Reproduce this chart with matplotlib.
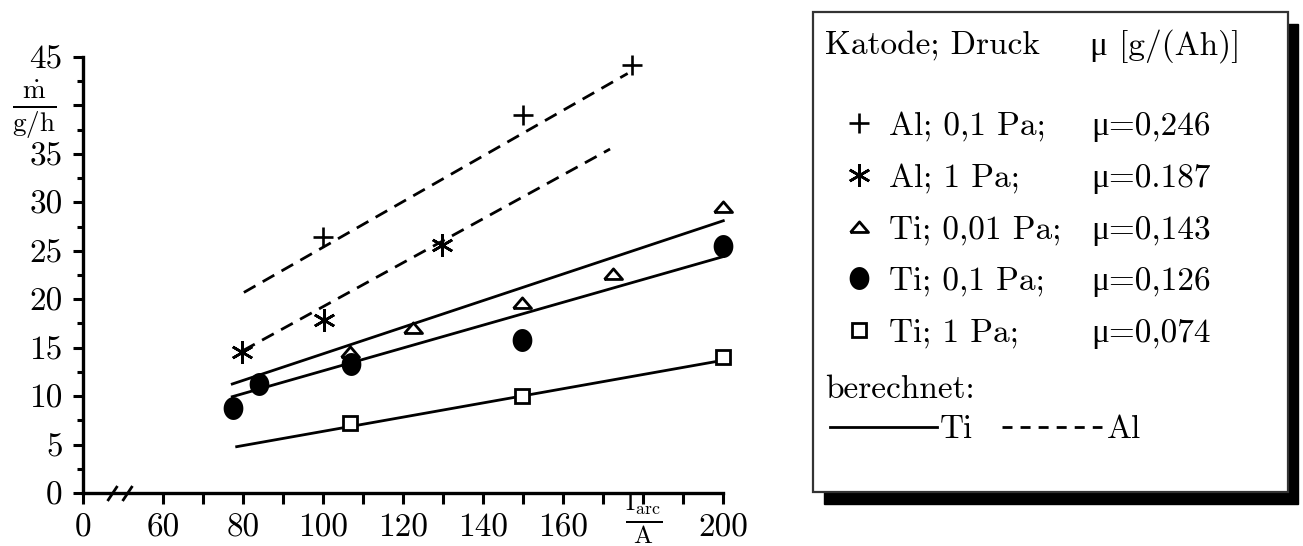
import numpy as np
import matplotlib
matplotlib.use('Agg')
import matplotlib.pyplot as plt
from matplotlib.patches import Rectangle
from matplotlib.transforms import blended_transform_factory

plt.rcParams['font.family'] = ['cmr10', 'Liberation Serif']
plt.rcParams['mathtext.fontset'] = 'cm'
plt.rcParams['axes.formatter.use_mathtext'] = True

# measured points, I_arc [A] vs mass flow [g/h]
al01_x = [100, 150, 177.2]
al01_y = [26.4, 39.0, 44.2]
al1_x = [79.8, 100.1, 129.8]
al1_y = [14.6, 17.9, 25.6]
ti001_x = [106.6, 122.4, 149.7, 172.5, 200]
ti001_y = [14.6, 17.0, 19.6, 22.6, 29.5]
ti01_x = [77.4, 83.9, 106.9, 149.7, 200]
ti01_y = [8.8, 11.25, 13.3, 15.8, 25.5]
ti1_x = [106.6, 149.6, 200]
ti1_y = [7.2, 10.0, 14.0]

# calculated lines (end points)
calc_al01_x = [80.2, 176.1]
calc_al01_y = [20.7, 43.3]
calc_al1_x = [80.0, 171.7]
calc_al1_y = [14.7, 35.5]
calc_ti001_x = [77.3, 200]
calc_ti001_y = [11.25, 28.1]
calc_ti01_x = [77.3, 200]
calc_ti01_y = [9.94, 24.4]
calc_ti1_x = [78.4, 200]
calc_ti1_y = [4.78, 13.7]

xticks = [40, 60, 80, 100, 120, 140, 160, 180, 200]
xticklabels = ['0', '60', '80', '100', '120', '140', '160', '', '200']
xminor = [70, 90, 110, 130, 150, 170, 190]
yticks = [0, 5, 10, 15, 20, 25, 30, 35, 40, 45]
yticklabels = ['0', '5', '10', '15', '20', '25', '30', '35', '', '45']

legend_labels = ['Al; 0,1 Pa;', 'Al; 1 Pa;', 'Ti; 0,01 Pa;', 'Ti; 0,1 Pa;', 'Ti; 1 Pa;']
legend_mu = ['μ=0,246', 'μ=0.187', 'μ=0,143', 'μ=0,126', 'μ=0,074']

# marker shapes
tri = [(-1, -0.55), (1, -0.55), (0, 0.62), (-1, -0.55)]
t = np.linspace(0, 2 * np.pi, 60)
ell = list(zip(0.86 * np.cos(t), np.sin(t)))
slash = [(-0.66, -1), (0.66, 1)]

styles = [
    dict(marker='+', ms=15, mew=1.9, color='k', ls='none'),
    dict(marker=(6, 2, 0), ms=16, mew=1.9, color='k', ls='none'),
    dict(marker=tri, ms=13, mew=2.0, mfc='white', mec='k', ls='none'),
    dict(marker=ell, ms=16.5, mew=0, mfc='k', mec='k', ls='none'),
    dict(marker='s', ms=10, mew=2.0, mfc='white', mec='k', ls='none'),
]
FS = 24
LW = 2.0
dash = (0, (4.8, 3))

fig = plt.figure(figsize=(13.03, 5.46), dpi=100)
W, H = 1303, 546
ax = fig.add_axes([83 / W, 53 / H, 640.3 / W, 436 / H])

# calculated lines
ax.plot(calc_ti001_x, calc_ti001_y, 'k-', lw=LW, clip_on=False)
ax.plot(calc_ti01_x, calc_ti01_y, 'k-', lw=LW, clip_on=False)
ax.plot(calc_ti1_x, calc_ti1_y, 'k-', lw=LW, clip_on=False)
ax.plot(calc_al01_x, calc_al01_y, 'k', ls=dash, lw=LW, clip_on=False)
ax.plot(calc_al1_x, calc_al1_y, 'k', ls=dash, lw=LW, clip_on=False)

# measurements
series = [(al01_x, al01_y), (al1_x, al1_y), (ti001_x, ti001_y), (ti01_x, ti01_y), (ti1_x, ti1_y)]
for (sx, sy), st in zip(series, styles):
    ax.plot(sx, sy, clip_on=False, zorder=3, **st)

ax.set_xlim(40, 200)
ax.set_ylim(0, 45)
for s in ['top', 'right']:
    ax.spines[s].set_visible(False)
for s in ['left', 'bottom']:
    ax.spines[s].set_linewidth(2.4)

ax.set_xticks(xticks)
ax.set_xticklabels(xticklabels)
ax.set_xticks(xminor, minor=True)
ax.set_yticks(yticks)
ax.set_yticklabels(yticklabels)
ax.set_yticks(np.arange(2.5, 45, 5), minor=True)
ax.tick_params(axis='x', which='both', direction='out', length=8, width=2.2, labelsize=FS, pad=7)
ax.tick_params(axis='y', which='major', direction='out', length=7.5, width=2.2, labelsize=FS, pad=7)
ax.tick_params(axis='y', which='minor', direction='out', length=4.3, width=2.2)

# axis break
ax.plot([47.2, 50.9], [0, 0], ls='none', marker=slash, ms=10.8, mew=2.0, mec='k', mfc='none', clip_on=False)

# axis labels as fractions
ty = blended_transform_factory(ax.transAxes, ax.transData)
ax.text(-0.0765, 39.6, r'$\frac{\dot{\mathrm{m}}}{\mathrm{g/h}}$', transform=ty,
        ha='center', va='center', fontsize=28)
tx = blended_transform_factory(ax.transData, ax.transAxes)
ax.text(180, -0.058, r'$\frac{\mathrm{I}_{\mathrm{arc}}}{\mathrm{A}}$', transform=tx,
        ha='center', va='center', fontsize=26)

# legend box drawn in pixel coordinates
lax = fig.add_axes([0, 0, 1, 1])
lax.set_xlim(0, W)
lax.set_ylim(H, 0)
lax.axis('off')
lax.add_patch(Rectangle((824, 24), 474, 480, fc='k', ec='k'))
lax.add_patch(Rectangle((813, 12), 475, 480, fc='white', ec='#333333', lw=1.6))

lax.text(825, 55, 'Katode; Druck', fontsize=FS, va='baseline')
lax.text(1090, 55, 'μ [g/(Ah)]', fontsize=FS, va='baseline')
row_y = [123, 175, 227, 278, 330]
for i, (lab, mu) in enumerate(zip(legend_labels, legend_mu)):
    lax.plot([859], [row_y[i]], **styles[i])
    lax.text(889, row_y[i] + 12, lab, fontsize=FS, va='baseline')
    lax.text(1091, row_y[i] + 12, mu, fontsize=FS, va='baseline')
lax.text(825, 398, 'berechnet:', fontsize=FS, va='baseline')
lax.plot([830, 937], [427, 427], 'k-', lw=LW)
lax.text(940, 438, 'Ti', fontsize=FS, va='baseline')
lax.plot([1002, 1102], [427, 427], 'k', ls=(0, (3.6, 2.9)), lw=LW)
lax.text(1107, 438, 'Al', fontsize=FS, va='baseline')

fig.savefig('out.png', dpi=100)
